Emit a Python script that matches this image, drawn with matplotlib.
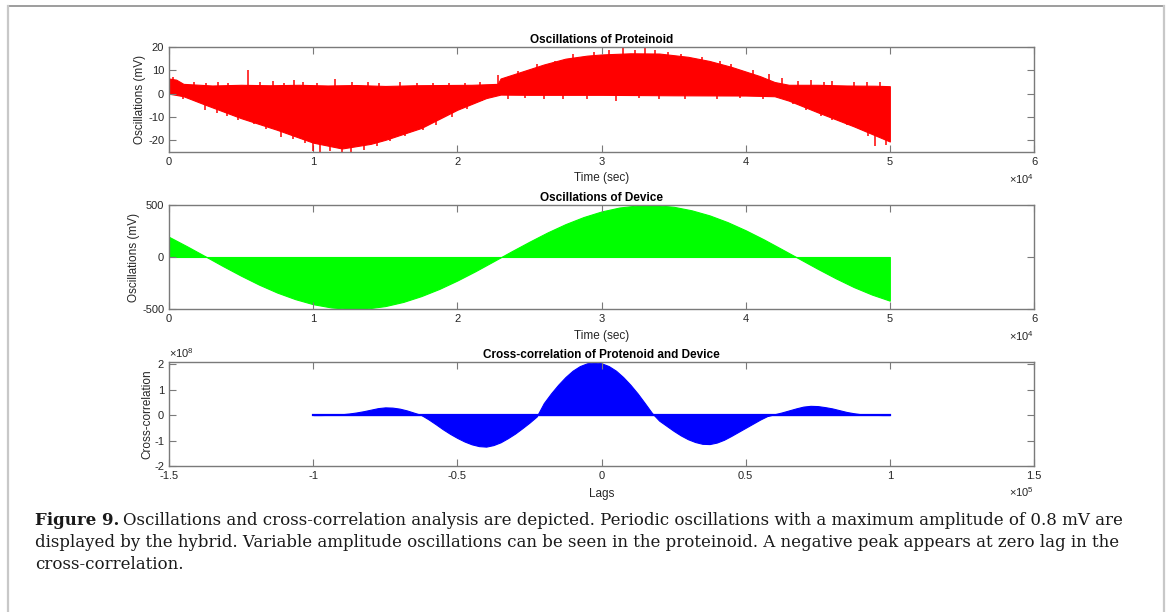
import matplotlib
matplotlib.use("Agg")
import matplotlib.pyplot as plt
from matplotlib.lines import Line2D
from matplotlib.ticker import FuncFormatter, FixedLocator
import numpy as np

# ---------------- data ----------------
# Proteinoid oscillation envelope (time in s, voltage in mV)
prot_t_upper = [0, 500, 1000, 3000, 5000, 7000, 9000, 11000, 13000, 15000, 17000, 19000,
                21000, 22800, 23000, 24000, 25000, 26000, 27500, 29000, 30000, 32000,
                34000, 36000, 37500, 39000, 40000, 41000, 42000, 43000, 45000, 47000,
                49000, 50000]
prot_upper = [6.5, 6.0, 4.2, 3.5, 3.8, 3.6, 3.8, 3.5, 3.7, 3.3, 3.6, 3.7,
              3.8, 4.2, 6.5, 8.5, 10.5, 12.5, 15.0, 16.3, 16.8, 17.3,
              17.2, 15.8, 14.0, 11.5, 9.5, 7.5, 5.0, 3.8, 3.8, 3.5,
              3.4, 3.2]
prot_t_lower = [0, 1000, 2500, 5000, 7500, 10000, 12000, 14000, 15000, 17500, 20000,
                22000, 23000, 25000, 30000, 35000, 40000, 42000, 43000, 45000, 47500, 50000]
prot_lower = [0.0, -1.1, -4.7, -10.5, -15.5, -21.0, -23.5, -21.5, -19.8, -14.7, -6.9,
              -1.9, -0.4, -0.5, -0.5, -0.7, -0.8, -1.1, -3.0, -8.0, -14.0, -20.5]
# Spikes sticking out of the envelope (time in s, mV)
spike_t = [300, 1700, 2600, 3400, 4100, 5500, 6300, 7200, 8000, 8700, 9300, 10300,
           11500, 12700, 13800, 14600, 16000, 17200, 18300, 19400, 20500, 21600,
           22800, 24200, 25500, 26800, 28000, 29500, 30500, 31500, 32300, 33000,
           33700, 34600, 35500, 37000, 38200, 39000, 40500, 41600, 42500, 43600,
           44500, 45400, 46000, 47500, 48400, 49300,
           1000, 1800, 2500, 3300, 4000, 4800, 5900, 6700, 7800, 8600, 9400, 10000,
           10500, 11200, 12000, 12600, 13500, 14400, 15300, 16400, 17600, 18500,
           19600, 20700, 21700, 23500, 24700, 26000, 27300, 29000, 31000, 32600,
           34000, 35800, 38000, 39600, 41200, 43300, 44200, 45200, 46000, 47000,
           48000, 48500, 49000, 49700]
spike_v = [7.0, 5.0, 4.6, 4.8, 4.5, 10.0, 4.8, 5.5, 4.7, 5.8, 5.0, 4.6,
           6.3, 5.0, 4.8, 4.5, 4.8, 4.6, 4.4, 4.7, 4.5, 4.8,
           8.0, 9.5, 12.5, 14.0, 17.0, 18.0, 18.5, 19.5, 18.6, 19.5,
           18.5, 18.0, 17.0, 15.5, 14.0, 12.5, 10.0, 8.5, 6.5, 5.5,
           6.0, 5.0, 5.5, 5.0, 5.2, 5.0,
           -2.5, -3.0, -7.0, -8.5, -9.5, -11.5, -13.0, -15.0, -18.5, -19.5, -21.0, -24.5,
           -25.0, -24.5, -25.0, -24.8, -24.0, -22.5, -20.5, -18.0, -15.5, -13.5,
           -10.0, -6.5, -3.0, -2.5, -2.0, -2.5, -2.2, -2.5, -3.0, -2.0,
           -2.5, -2.2, -2.5, -2.0, -2.2, -4.5, -7.0, -9.5, -11.5, -13.5,
           -15.5, -18.0, -22.5, -22.0]

# Device oscillation envelope (time in s, voltage in mV)
dev_t = np.arange(0, 50001, 1250)
dev_amp = [194, 103, 8, -88, -180, -266, -342, -405, -454, -485, -499,
           -495, -472, -432, -376, -307, -226, -137, -42, 54, 147,
           236, 316, 384, 438, 476, 496, 499, 483, 449, 400,
           335, 257, 170, 76, -19, -114, -205, -289, -361, -420]

# Cross-correlation envelope (lag in samples, correlation x1e8)
xc_lag = np.arange(-100000, 100001, 2500)
xc_val = [0.0, 0.0, 0.005, 0.01, 0.03, 0.06, 0.10, 0.15, 0.21, 0.27,
          0.30, 0.29, 0.25, 0.18, 0.09, 0.0, -0.17, -0.36, -0.56, -0.74,
          -0.90, -1.04, -1.15, -1.22, -1.24, -1.18, -1.07, -0.91, -0.73, -0.52,
          -0.30, -0.06, 0.47, 0.85, 1.19, 1.49, 1.74, 1.92, 2.03, 2.07,
          2.03, 1.92, 1.74, 1.49, 1.19, 0.85, 0.47, 0.08, -0.22, -0.42,
          -0.62, -0.80, -0.95, -1.06, -1.13, -1.14, -1.08, -0.97, -0.82, -0.66,
          -0.50, -0.34, -0.18, -0.04, 0.03, 0.10, 0.18, 0.26, 0.33, 0.36,
          0.35, 0.31, 0.26, 0.19, 0.12, 0.07, 0.03, 0.015, 0.005, 0.0, 0.0]

time_ticks = [0, 10000, 20000, 30000, 40000, 50000, 60000]
lag_ticks = [-150000, -100000, -50000, 0, 50000, 100000, 150000]

caption_head = "Figure 9."
caption_lines = [
    "Oscillations and cross-correlation analysis are depicted. Periodic oscillations with a maximum amplitude of 0.8 mV are",
    "displayed by the hybrid. Variable amplitude oscillations can be seen in the proteinoid. A negative peak appears at zero lag in the",
    "cross-correlation.",
]

# ---------------- style ----------------
plt.rcParams["font.family"] = ["Liberation Sans", "DejaVu Sans"]
plt.rcParams["mathtext.fontset"] = "custom"
plt.rcParams["mathtext.rm"] = "Liberation Sans"
AX_COL = "#7a7a7a"
TXT_COL = "#262626"

W, H = 1170, 612
fig = plt.figure(figsize=(W / 100, H / 100), dpi=100)
fig.patch.set_facecolor("white")


def px_axes(left, top, right, bottom):
    return fig.add_axes([left / W, 1 - bottom / H, (right - left) / W, (bottom - top) / H])


def style(ax, label_x, label_y, ylab_off):
    for s in ax.spines.values():
        s.set_color(AX_COL)
        s.set_linewidth(1.0)
    ax.tick_params(direction="in", length=5, width=0.8, color=AX_COL,
                   labelsize=8, labelcolor=TXT_COL, pad=3.5,
                   top=True, right=True)
    ax.set_xlabel(label_x, fontsize=8.5, color=TXT_COL, va="top")
    ax.set_ylabel(label_y, fontsize=8.5, color=TXT_COL)
    ax.yaxis.set_label_coords(ylab_off, 0.5)


gfmt = FuncFormatter(lambda v, p: "%g" % v)

# --- Proteinoid ---
ax1 = px_axes(169, 47, 1034, 152)
tt = np.array(sorted(set(prot_t_upper) | set(prot_t_lower)), dtype=float)
ax1.fill_between(tt, np.interp(tt, prot_t_lower, prot_lower),
                 np.interp(tt, prot_t_upper, prot_upper),
                 color="#ff0000", lw=0.8, edgecolor="#ff0000")
ax1.vlines(spike_t, 0, spike_v, color="#ff0000", lw=1.1)
ax1.set_xlim(0, 60000)
ax1.set_ylim(-25, 20)
ax1.xaxis.set_major_locator(FixedLocator(time_ticks))
ax1.xaxis.set_major_formatter(FuncFormatter(lambda v, p: "%g" % (v / 1e4)))
ax1.yaxis.set_major_locator(FixedLocator([-20, -10, 0, 10, 20]))
ax1.yaxis.set_major_formatter(gfmt)
style(ax1, "Time (sec)", "Oscillations (mV)", -23 / 865)
ax1.xaxis.set_label_coords(0.5, -20 / 105)
ax1.set_title("Oscillations of Proteinoid", fontsize=8.5, fontweight="bold", pad=3)
ax1.text(1.0, -32 / 105, r"$\times\mathregular{10^{4}}$", transform=ax1.transAxes,
         ha="right", va="baseline", fontsize=8, color=TXT_COL)

# --- Device ---
ax2 = px_axes(169, 205, 1034, 309)
ax2.fill_between(dev_t, 0, dev_amp, color="#00ff00", lw=0.8, edgecolor="#00ff00")
ax2.set_xlim(0, 60000)
ax2.set_ylim(-500, 500)
ax2.xaxis.set_major_locator(FixedLocator(time_ticks))
ax2.xaxis.set_major_formatter(FuncFormatter(lambda v, p: "%g" % (v / 1e4)))
ax2.yaxis.set_major_locator(FixedLocator([-500, 0, 500]))
ax2.yaxis.set_major_formatter(gfmt)
style(ax2, "Time (sec)", "Oscillations (mV)", -29 / 865)
ax2.xaxis.set_label_coords(0.5, -21 / 104)
ax2.set_title("Oscillations of Device", fontsize=8.5, fontweight="bold", pad=3)
ax2.text(1.0, -32 / 104, r"$\times\mathregular{10^{4}}$", transform=ax2.transAxes,
         ha="right", va="baseline", fontsize=8, color=TXT_COL)

# --- Cross-correlation ---
ax3 = px_axes(169, 362, 1034, 466)
xc = np.array(xc_val) * 1e8
ax3.fill_between(xc_lag, 0, xc, color="#0000ff", lw=0.8, edgecolor="#0000ff")
ax3.plot([xc_lag[0], xc_lag[-1]], [0, 0], color="#0000ff", lw=1.6)
ax3.set_xlim(-150000, 150000)
ax3.set_ylim(-2e8, 2.08e8)
ax3.xaxis.set_major_locator(FixedLocator(lag_ticks))
ax3.xaxis.set_major_formatter(FuncFormatter(lambda v, p: "%g" % (v / 1e5)))
ax3.yaxis.set_major_locator(FixedLocator([-2e8, -1e8, 0, 1e8, 2e8]))
ax3.yaxis.set_major_formatter(FuncFormatter(lambda v, p: "%g" % (v / 1e8)))
style(ax3, "Lags", "Cross-correlation", -16 / 865)
ax3.xaxis.set_label_coords(0.5, -22 / 104)
ax3.set_title("Cross-correlation of Protenoid and Device", fontsize=8.5,
              fontweight="bold", pad=3)
ax3.text(1.0, -31 / 104, r"$\times\mathregular{10^{5}}$", transform=ax3.transAxes,
         ha="right", va="baseline", fontsize=8, color=TXT_COL)
ax3.text(0.0, 1.038, r"$\times\mathregular{10^{8}}$", transform=ax3.transAxes,
         ha="left", va="baseline", fontsize=8, color=TXT_COL)

# --- frame around the figure ---
fx = lambda x: x / W
fy = lambda y: 1 - y / H
fig.add_artist(Line2D([fx(8), fx(1164)], [fy(6), fy(6)], color="#8c8c8c", lw=1.2))
fig.add_artist(Line2D([fx(8), fx(8)], [fy(6), 0], color="#c8c8c8", lw=1.6))
fig.add_artist(Line2D([fx(1164), fx(1164)], [fy(6), 0], color="#c8c8c8", lw=1.6))

# --- caption: first line sized to run from x=35 to x=1123 ---
serif = ["DejaVu Serif"]
renderer = fig.canvas.get_renderer()
x0, x_end = 35, 1123
baselines = [525, 547, 569]


def caption_width(size):
    h = fig.text(0, 0, caption_head, family=serif, fontsize=size, fontweight="bold")
    b = fig.text(0, 0, caption_lines[0], family=serif, fontsize=size)
    w = h.get_window_extent(renderer).width + 0.3 * size + b.get_window_extent(renderer).width
    h.remove()
    b.remove()
    return w


cap_size = 12.0
cap_size *= (x_end - x0) / caption_width(cap_size)

head = fig.text(fx(x0), fy(baselines[0]), caption_head, family=serif, fontsize=cap_size,
                fontweight="bold", va="baseline", ha="left", color="#1a1a1a")
hw = head.get_window_extent(renderer).width
fig.text(fx(x0 + hw + 0.3 * cap_size), fy(baselines[0]), caption_lines[0], family=serif,
         fontsize=cap_size, va="baseline", ha="left", color="#1a1a1a")
for line, b in zip(caption_lines[1:], baselines[1:]):
    fig.text(fx(x0), fy(b), line, family=serif, fontsize=cap_size,
             va="baseline", ha="left", color="#1a1a1a")

fig.savefig("out.png", dpi=100, facecolor="white")
